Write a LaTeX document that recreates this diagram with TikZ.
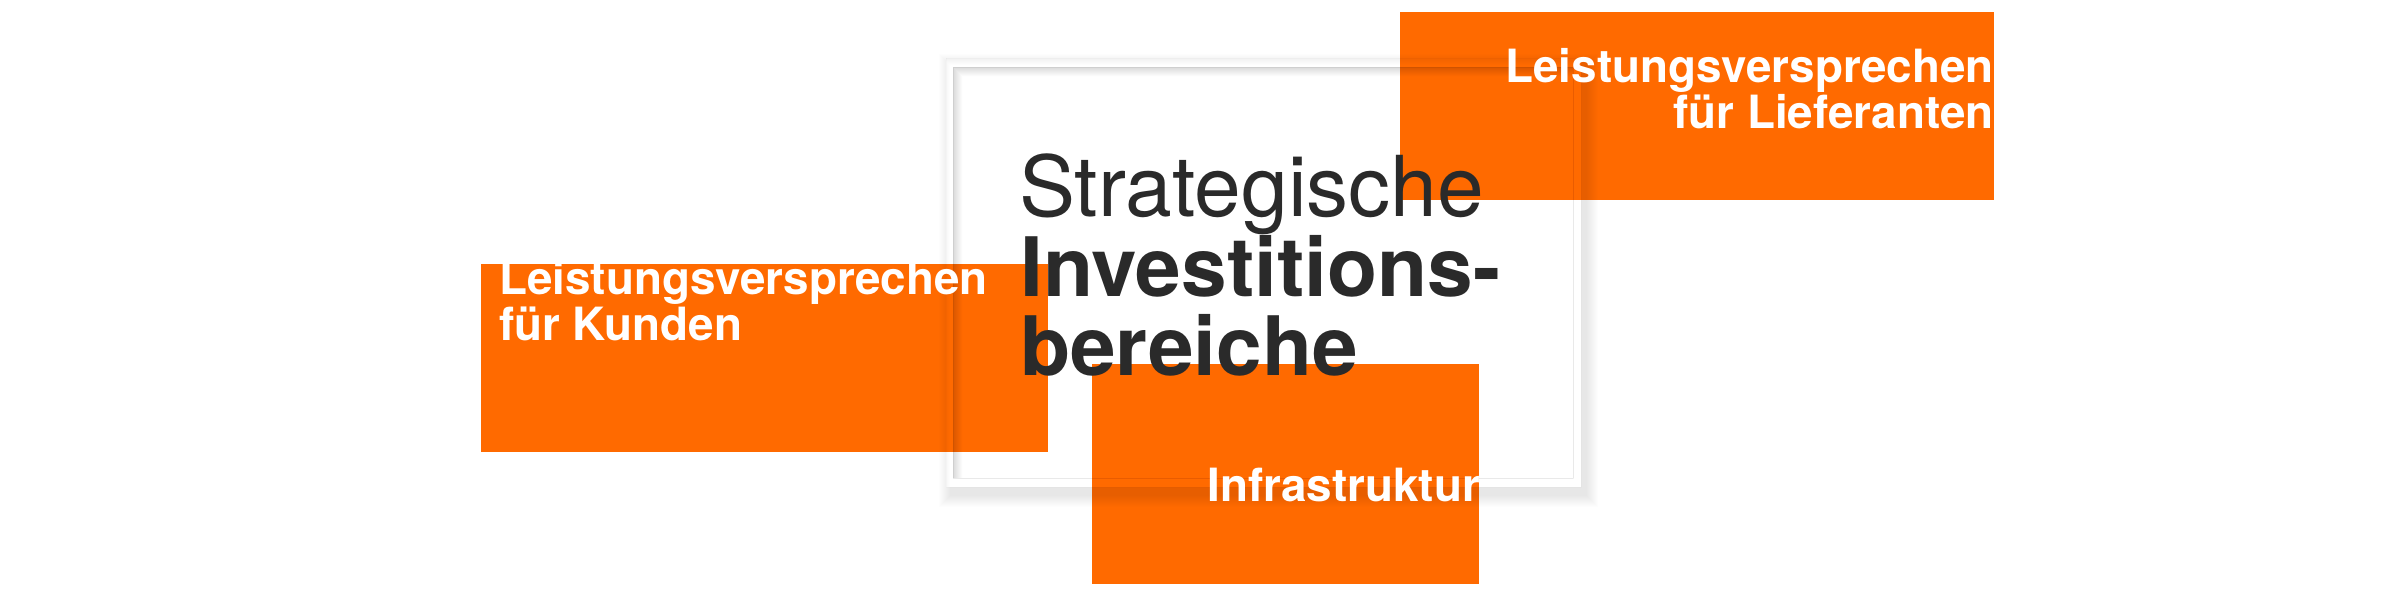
\documentclass[tikz,border=0pt]{standalone}
\usepackage{fontspec}
\setmainfont{TeX Gyre Heros}
\definecolor{brandorange}{HTML}{FF6A00}
\definecolor{ink}{HTML}{2A2A2A}
\tikzset{
  obox/.style={fill=brandorange, draw=none, inner sep=0pt, outer sep=0pt, anchor=north west},
  boxtext/.style={text=white, inner sep=0pt, font=\fontsize{45.8}{46}\selectfont\bfseries},
  titlelight/.style={text=ink, inner sep=0pt, anchor=base west, font=\fontsize{84}{84}\selectfont},
  titlebold/.style={text=ink, inner sep=0pt, anchor=base west, font=\fontsize{82}{82}\selectfont\bfseries},
}
\begin{document}
\begin{tikzpicture}[x=1pt,y=-1pt]
\useasboundingbox (0,0) rectangle (2400,600);
\fill[white] (0,0) rectangle (2400,600);
% frame card (white)
\fill[white] (946,58) rectangle (1581,487);
% orange boxes
\node[obox, minimum width=594pt, minimum height=188pt] (lief) at (1400,12) {};
\node[obox, minimum width=567pt, minimum height=188pt] (kund) at (481,264) {};
\node[obox, minimum width=387pt, minimum height=220pt] (infra) at (1092,364) {};
% frame drop shadow
\foreach \k in {1,...,12}{
  \fill[black, opacity=0.009, even odd rule]
    ({946-\k+5},{58-\k+8}) rectangle ({1581+\k+5},{487+\k+8})
    (946,58) rectangle (1581,487);
}
\draw[black, opacity=0.012, line width=0.6pt] (946,58) rectangle (1581,487);
% inner recess shadow
\foreach \k in {1,...,9}{
  \fill[black, opacity=0.017, even odd rule]
    (953,67) rectangle (1573,478)
    ({953+\k},{67+\k}) rectangle (1573,478);
}
\draw[black, opacity=0.05, line width=1pt] (953,67) rectangle (1573,478);
% box texts
\node[boxtext, anchor=base east] (lief1) at (1994,82) {Leistungsversprechen};
\node[boxtext, anchor=base east] (lief2) at (1994,128) {für Lieferanten};
\node[boxtext, anchor=base west] (kund1) at (499,294) {Leistungsversprechen};
\node[boxtext, anchor=base west] (kund2) at (499,340) {für Kunden};
\node[boxtext, anchor=base east] (infra1) at (1480,501) {Infrastruktur};
% title
\node[titlelight] (t1) at (1019,216) {Strategische};
\node[titlebold] (t2) at (1020,296) {Investitions-};
\node[titlebold] (t3) at (1020,375) {bereiche};
\end{tikzpicture}
\end{document}
